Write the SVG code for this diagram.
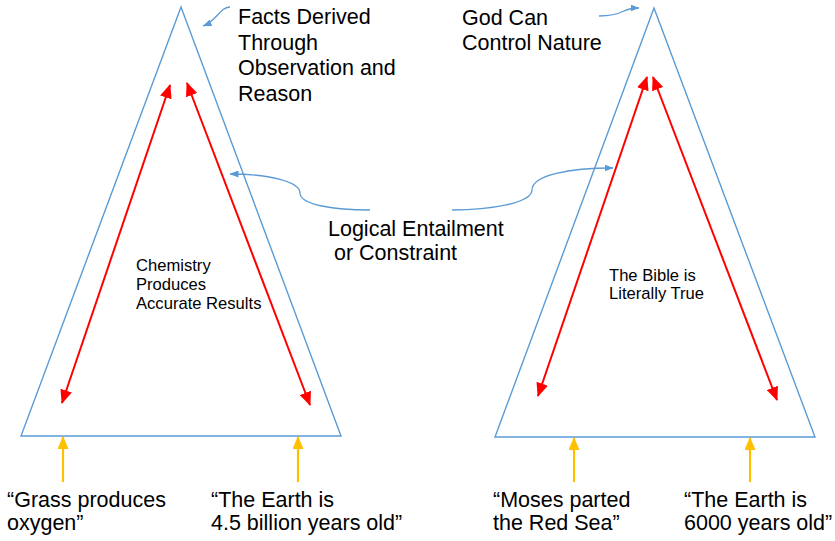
<svg xmlns="http://www.w3.org/2000/svg" width="835" height="541" viewBox="0 0 835 541">
<style>
.tri{fill:none;stroke:#5B9BD5;stroke-width:1.4}
.red{fill:none;stroke:#FF0000;stroke-width:2;marker-start:url(#ra);marker-end:url(#ra)}
.yel{fill:none;stroke:#FFC000;stroke-width:2.2;marker-end:url(#ya)}
.blu{fill:none;stroke:#5B9BD5;stroke-width:1.3;marker-end:url(#ba)}
.big{font-family:"Liberation Sans",Arial,sans-serif;font-size:21.5px;fill:#000}
.sm{font-family:"Liberation Sans",Arial,sans-serif;font-size:16.6px;fill:#000}
</style>
<defs>
<marker id="ra" viewBox="0 0 14 12" refX="13" refY="6" markerWidth="14" markerHeight="12" markerUnits="userSpaceOnUse" orient="auto-start-reverse"><path d="M0,0 L14,6 L0,12 z" fill="#FF0000"/></marker>
<marker id="ya" viewBox="0 0 13 11" refX="12" refY="5.5" markerWidth="13" markerHeight="11" markerUnits="userSpaceOnUse" orient="auto"><path d="M0,0 L13,5.5 L0,11 z" fill="#FFC000"/></marker>
<marker id="ba" viewBox="0 0 9 7" refX="8.5" refY="3.5" markerWidth="9" markerHeight="7" markerUnits="userSpaceOnUse" orient="auto"><path d="M0,0 L9,3.5 L0,7 z" fill="#5B9BD5"/></marker>
</defs>
<rect width="835" height="541" fill="#fff"/>
<g id="left-triangle"><path class="tri" d="M181,7 L341,436 L21,436 Z"/></g>
<g id="right-triangle"><path class="tri" d="M654,8 L815,437 L495,437 Z"/></g>
<g id="connectors">
<path class="red" d="M62,403 L170,85"/>
<path class="red" d="M310,405 L187,83"/>
<path class="red" d="M538,396 L647,77"/>
<path class="red" d="M777,400 L653,77"/>
<path class="yel" d="M63,482 L63,437"/>
<path class="yel" d="M298,482 L298,437"/>
<path class="yel" d="M574,482 L574,438"/>
<path class="yel" d="M750,482 L750,438"/>
<path class="blu" d="M230,7 C219,8 218,20 203,26"/>
<path class="blu" d="M599,16 C612,16 618,14 624,11 C628,9 632,8 639,8"/>
<path class="blu" d="M370,210 C335,210 300,205 300,193 C300,182 270,174 230,174"/>
<path class="blu" d="M452,210 C490,210 532,203 532,190 C532,175 570,168 613,168"/>
</g>
<g id="label-facts"><text class="big" x="238" y="24">Facts Derived</text><text class="big" x="238" y="49.5">Through</text><text class="big" x="238" y="75">Observation and</text><text class="big" x="238" y="100.5">Reason</text></g>
<g id="label-god"><text class="big" x="462" y="25">God Can</text><text class="big" x="462" y="50">Control Nature</text></g>
<g id="label-logical"><text class="big" x="328" y="236">Logical Entailment</text><text class="big" x="334" y="260">or Constraint</text></g>
<g id="label-chem"><text class="sm" x="136" y="271">Chemistry</text><text class="sm" x="136" y="290">Produces</text><text class="sm" x="136" y="309">Accurate Results</text></g>
<g id="label-bible"><text class="sm" x="609" y="281">The Bible is</text><text class="sm" x="609" y="298.5">Literally True</text></g>
<g id="label-grass"><text class="big" x="7" y="507">“Grass produces</text><text class="big" x="7" y="530">oxygen”</text></g>
<g id="label-earth45"><text class="big" x="211" y="507">“The Earth is</text><text class="big" x="211" y="530">4.5 billion years old”</text></g>
<g id="label-moses"><text class="big" x="493" y="507">“Moses parted</text><text class="big" x="493" y="530">the Red Sea”</text></g>
<g id="label-earth6000"><text class="big" x="684" y="507">“The Earth is</text><text class="big" x="684" y="530">6000 years old”</text></g>
</svg>
